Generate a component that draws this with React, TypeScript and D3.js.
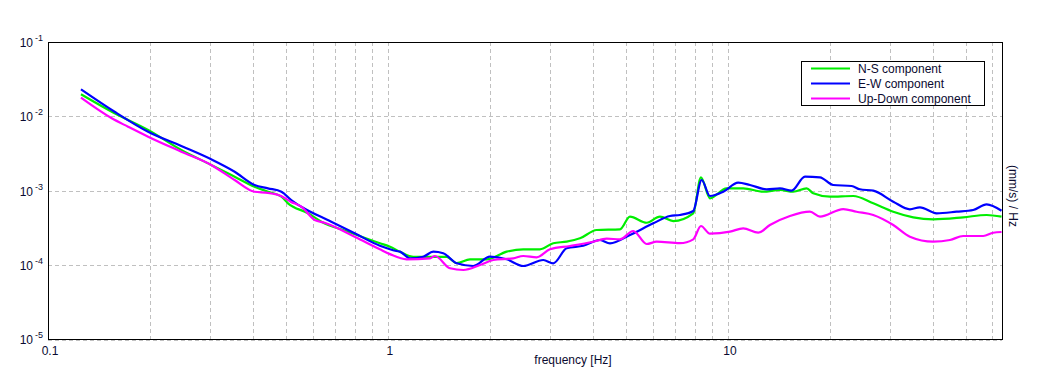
import React from "react";
import * as d3 from "d3";

const freqNS = [0.125, 0.157, 0.197, 0.2466, 0.302, 0.354, 0.405, 0.4437, 0.486, 0.508, 0.582, 0.637, 0.763, 0.947, 1.014, 1.085, 1.187, 1.30, 1.488, 1.593, 1.743, 1.952, 2.234, 2.5, 2.8, 3.064, 3.355, 3.671, 4.11, 4.813, 5.15, 5.767, 6.31, 6.904, 7.907, 8.33, 8.853, 9.91, 11.09, 12.70, 14.22, 15.56, 17.04, 17.82, 19.95, 23.36, 26.76, 30.64, 35.08, 40.17, 49.22, 57.67, 63.8];
const valNS = [0.01975, 0.01095, 0.00653, 0.00351, 0.00221, 0.001534, 0.001125, 9.63e-4, 8.25e-4, 6.72e-4, 4.93e-4, 3.8e-4, 2.79e-4, 1.95e-4, 1.75e-4, 1.5e-4, 1.28e-4, 1.28e-4, 1.28e-4, 1.05e-4, 1.18e-4, 1.18e-4, 1.5e-4, 1.615e-4, 1.615e-4, 1.95e-4, 2.05e-4, 2.27e-4, 2.94e-4, 3.0e-4, 4.44e-4, 3.68e-4, 4.44e-4, 3.88e-4, 4.93e-4, 1.506e-3, 7.85e-4, 1.071e-3, 1.071e-3, 9.63e-4, 1.016e-3, 9.63e-4, 1.071e-3, 9.17e-4, 8.25e-4, 8.43e-4, 6.72e-4, 5.18e-4, 4.355e-4, 4.09e-4, 4.355e-4, 4.68e-4, 4.44e-4];

const freqEW = [0.125, 0.157, 0.197, 0.2466, 0.302, 0.354, 0.405, 0.4437, 0.486, 0.5195, 0.556, 0.681, 0.798, 0.947, 1.058, 1.085, 1.161, 1.27, 1.359, 1.454, 1.593, 1.782, 1.995, 2.234, 2.5, 2.863, 3.064, 3.355, 3.754, 4.203, 4.498, 5.15, 6.03, 6.752, 7.225, 7.907, 8.37, 8.853, 9.69, 10.72, 11.61, 13.0, 14.22, 15.39, 16.85, 18.65, 20.4, 23.11, 24.44, 26.76, 30.64, 34.3, 36.7, 41.1, 47.07, 52.66, 57.67, 63.8];
const valEW = [0.02307, 0.0115, 0.00619, 0.003975, 0.00263, 0.00179, 0.001186, 0.00107, 9.63e-4, 7.44e-4, 6.05e-4, 3.8e-4, 2.652e-4, 1.8e-4, 1.53e-4, 1.5e-4, 1.221e-4, 1.283e-4, 1.5e-4, 1.43e-4, 1.046e-4, 9.62e-5, 1.283e-4, 1.184e-4, 9.62e-5, 1.159e-4, 1.046e-4, 1.665e-4, 1.8e-4, 2.154e-4, 1.945e-4, 2.516e-4, 3.61e-4, 4.535e-4, 4.68e-4, 5.3e-4, 1.385e-3, 8.43e-4, 9.63e-4, 1.274e-3, 1.186e-3, 1.038e-3, 1.071e-3, 9.94e-4, 1.534e-3, 1.506e-3, 1.186e-3, 1.15e-3, 1.038e-3, 9.94e-4, 7.07e-4, 5.58e-4, 5.94e-4, 4.93e-4, 5.18e-4, 5.46e-4, 6.52e-4, 5.34e-4];

const freqUD = [0.125, 0.154, 0.172, 0.197, 0.2466, 0.302, 0.354, 0.405, 0.4437, 0.4847, 0.5172, 0.556, 0.609, 0.651, 0.798, 0.914, 0.947, 1.014, 1.135, 1.329, 1.375, 1.522, 1.666, 1.865, 2.04, 2.336, 2.5, 2.738, 2.996, 3.43, 4.017, 4.398, 4.813, 5.267, 5.767, 6.17, 7.225, 7.907, 8.33, 8.853, 10.14, 11.09, 12.28, 13.29, 15.22, 17.43, 18.65, 21.84, 23.9, 26.76, 30.64, 34.3, 40.17, 44.98, 49.22, 56.36, 60.3, 63.8];
const valUD = [0.01777, 0.00938, 0.00723, 0.0053, 0.00333, 0.00221, 0.001385, 9.63e-4, 9.3e-4, 8.43e-4, 7.07e-4, 6.05e-4, 4.0e-4, 3.68e-4, 2.386e-4, 1.75e-4, 1.615e-4, 1.39e-4, 1.184e-4, 1.221e-4, 1.311e-4, 8.96e-5, 8.5e-5, 9.92e-5, 1.159e-4, 1.221e-4, 1.311e-4, 1.26e-4, 1.615e-4, 1.788e-4, 2.043e-4, 2.243e-4, 2.202e-4, 2.85e-4, 1.903e-4, 2.043e-4, 1.95e-4, 2.2e-4, 3.325e-4, 2.62e-4, 2.787e-4, 3.096e-4, 2.7e-4, 3.43e-4, 4.535e-4, 5.18e-4, 4.44e-4, 5.63e-4, 5.18e-4, 4.68e-4, 3.43e-4, 2.386e-4, 2.043e-4, 2.154e-4, 2.44e-4, 2.44e-4, 2.7e-4, 2.76e-4];

const seriesNames = ["N-S component", "E-W component", "Up-Down component"];
const seriesColors = ["#00ee00", "#0000ff", "#ff00ff"];
const xTickValues = [0.1, 1, 10];
const xTickLabels = ["0.1", "1", "10"];
const yExponents = [-1, -2, -3, -4, -5];

const W = 1051, H = 382;
const M = { left: 48, right: 1002, top: 42, bottom: 339 };
const FONT = "Arial, 'Liberation Sans', sans-serif";
const TEXT = "#0a0a30";

export default function App() {
  const x = d3.scaleLog().domain([0.1, 64]).range([M.left, M.right]);
  const y = d3.scaleLog().domain([1e-5, 1e-1]).range([M.bottom, M.top]);

  const series = [
    freqNS.map((f, i) => [f, valNS[i]] as [number, number]),
    freqEW.map((f, i) => [f, valEW[i]] as [number, number]),
    freqUD.map((f, i) => [f, valUD[i]] as [number, number]),
  ];
  const line = d3.line<[number, number]>().x(d => x(d[0])).y(d => y(d[1])).curve(d3.curveMonotoneX);

  const vGrid: number[] = [];
  [0.1, 1, 10].forEach(dec => {
    for (let k = 1; k <= 9; k++) {
      const v = dec * k;
      if (v <= 64) vGrid.push(v);
    }
  });

  return (
    <svg width={W} height={H} style={{ position: "absolute", left: 0, top: 0, background: "#fff" }}>
      <rect x={0} y={0} width={W} height={H} fill="#fff" />
      <g stroke="#c0c0c0" strokeWidth={1} strokeDasharray="4,3" fill="none">
        {vGrid.map((v, i) => (
          <line key={"v" + i} x1={Math.round(x(v)) + 0.5} x2={Math.round(x(v)) + 0.5} y1={M.top} y2={M.bottom + 2} />
        ))}
        {yExponents.map((e, i) => (
          <line key={"h" + i} x1={M.left} x2={M.right} y1={Math.round(y(Math.pow(10, e))) + 0.5 + (e === -5 ? 1 : 0)} y2={Math.round(y(Math.pow(10, e))) + 0.5 + (e === -5 ? 1 : 0)} />
        ))}
      </g>
      <g fill="none" strokeWidth={2.2} strokeLinejoin="round">
        {series.map((s, i) => (
          <path key={i} d={line(s) || ""} stroke={seriesColors[i]} />
        ))}
      </g>
      <rect x={M.left + 0.5} y={M.top + 0.5} width={M.right - M.left} height={M.bottom - M.top} fill="none" stroke="#000" strokeWidth={1} />
      <g fontFamily={FONT} fill={TEXT}>
        {yExponents.map((e, i) => (
          <text key={"yl" + i} x={43} y={y(Math.pow(10, e)) + 5} textAnchor="end" fontSize={12}>
            10<tspan dx={2} dy={-6} fontSize={9}>{String(e)}</tspan>
          </text>
        ))}
        {xTickValues.map((v, i) => (
          <text key={"xl" + i} x={x(v) + 2} y={355} textAnchor="middle" fontSize={12}>
            {xTickLabels[i]}
          </text>
        ))}
        <text x={573} y={364} textAnchor="middle" fontSize={12}>frequency [Hz]</text>
        <text transform="translate(1009,196) rotate(90)" textAnchor="middle" fontSize={12}>(mm/s)  /  Hz</text>
      </g>
      <g fontFamily={FONT}>
        <rect x={801.5} y={61.5} width={183} height={44} fill="#fff" stroke="#000" strokeWidth={1} />
        {seriesNames.map((n, i) => (
          <g key={"lg" + i}>
            <line x1={811} x2={850} y1={68.5 + i * 15} y2={68.5 + i * 15} stroke={seriesColors[i]} strokeWidth={2.2} />
            <text x={858} y={72.5 + i * 15} fontSize={12} fill={TEXT}>{n}</text>
          </g>
        ))}
      </g>
    </svg>
  );
}
